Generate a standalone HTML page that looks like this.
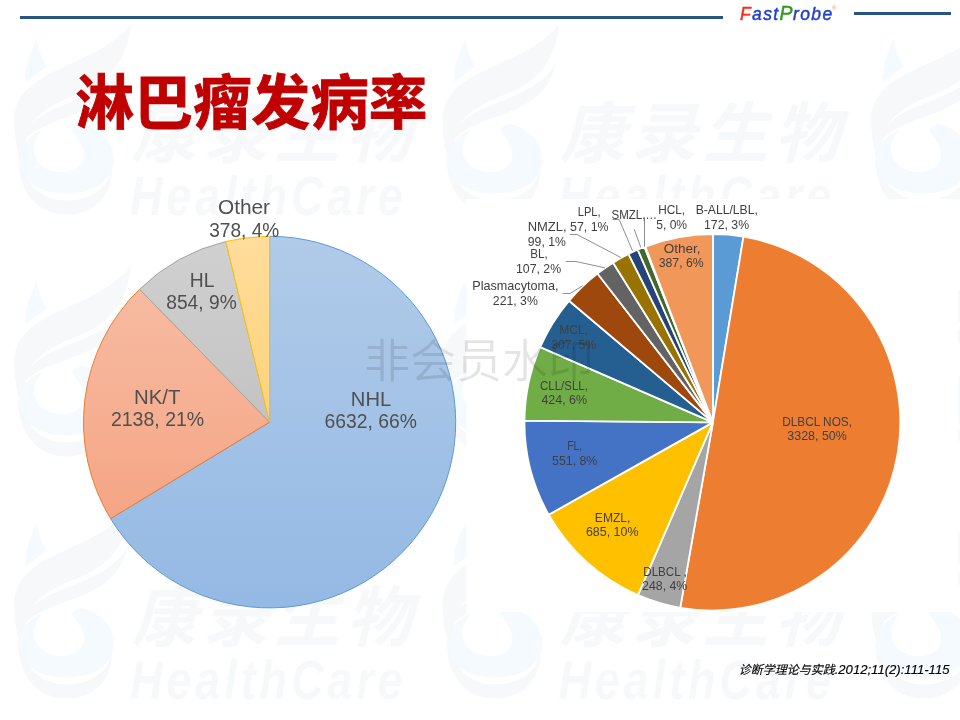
<!DOCTYPE html>
<html lang="zh-CN">
<head>
<meta charset="utf-8">
<title>淋巴瘤发病率</title>
<style>
html,body{margin:0;padding:0;background:#fff;}
body{width:960px;height:720px;position:relative;overflow:hidden;font-family:"Liberation Sans","Noto Sans CJK SC",sans-serif;}
.abs{position:absolute;}
.line1{left:20px;top:16px;width:703px;height:3px;background:#2A5482;}
.line2{left:854px;top:12px;width:97px;height:3px;background:#2A5482;}
.brand{left:740px;top:1.4px;font-size:17.5px;font-style:italic;letter-spacing:1.35px;line-height:24px;white-space:nowrap;color:#1F3FD0;-webkit-text-stroke:0.45px currentColor;}
.brand .f{color:#FF2A1A;} .brand .p{color:#2E9A1E;font-size:19.5px;letter-spacing:0.6px;}
.brand sup{font-size:6px;color:#F0A030;letter-spacing:0;font-style:normal;position:relative;top:-10px;left:-1.5px;vertical-align:baseline;-webkit-text-stroke:0;}
h1{margin:0;left:75.6px;top:56px;font-size:58.67px;line-height:86px;font-weight:bold;color:#C00000;white-space:nowrap;font-family:"Noto Sans CJK SC","Liberation Sans",sans-serif;-webkit-text-stroke:0.9px #C00000;}
.wm{left:364px;top:331.5px;font-size:46px;line-height:50px;color:rgba(0,0,0,0.105);white-space:nowrap;font-family:"Noto Sans CJK SC",sans-serif;font-weight:350;}
.cite{-webkit-text-stroke:0.15px #000;left:738.7px;top:660.7px;font-size:12px;line-height:18px;font-style:italic;color:#000;white-space:nowrap;font-family:"Liberation Sans","Noto Sans CJK SC",sans-serif;}
.cite span{font-size:13.1px;}
svg.chart{position:absolute;left:0;top:0;}
svg text.ll,svg text.rl{font-family:"Liberation Sans",sans-serif;text-anchor:start;fill:#505050;}
svg text.ll{font-size:19.6px;}
svg text.rl{font-size:12.3px;fill:#404040;}
</style>
</head>
<body>
<svg class="chart" width="960" height="720" viewBox="0 0 960 720">
<defs>
<linearGradient id="l0" gradientUnits="userSpaceOnUse" x1="0" y1="235" x2="0" y2="608"><stop offset="0" stop-color="#B1CBE9"/><stop offset="1" stop-color="#94B9E4"/></linearGradient>
<linearGradient id="l1" gradientUnits="userSpaceOnUse" x1="0" y1="290" x2="0" y2="520"><stop offset="0" stop-color="#F7BBA1"/><stop offset="1" stop-color="#F5A585"/></linearGradient>
<linearGradient id="l2" gradientUnits="userSpaceOnUse" x1="0" y1="245" x2="0" y2="422"><stop offset="0" stop-color="#D0D0D0"/><stop offset="1" stop-color="#C3C3C3"/></linearGradient>
<linearGradient id="l3" gradientUnits="userSpaceOnUse" x1="0" y1="235" x2="0" y2="422"><stop offset="0" stop-color="#FFDD9C"/><stop offset="1" stop-color="#FFD27A"/></linearGradient>
<pattern id="wm" patternUnits="userSpaceOnUse" x="0" y="0" width="428.5" height="242">
<g fill="#F6F8FA" transform="translate(0,-3.5)">
<path d="M131,27 C112,52 80,62 52,76 C28,88 14,102 14,124 C14,150 22,176 34,196 C24,170 22,146 30,130 C40,112 62,104 86,94 C112,82 128,60 131,27Z"/>
<path d="M128,66 C112,92 84,100 60,110 C40,118 26,128 22,146 C34,132 52,126 74,118 C102,108 122,94 128,66Z"/>
<path d="M18,160 C18,196 38,218 66,218 C94,218 112,200 112,172 C108,192 90,204 66,204 C42,204 24,188 18,160Z"/>
</g>
<g fill="#F4FAFD" transform="translate(-0.5,-3.5)">
<path d="M37,43 C30,58 25,70 26,86 C34,80 42,74 47,70 C42,62 39,52 37,43Z"/>
<path transform="translate(66,161) scale(1.03,0.97) translate(-66,-161)" d="M84,127 C100,132 113,146 113,162 C113,186 92,198 66,198 C40,198 21,184 21,164 C21,150 30,138 44,132 C36,142 34,150 36,158 C40,172 52,176 64,176 C76,176 84,168 84,158 C84,148 76,140 72,132 C76,128 80,126 84,127Z"/>
</g>
<text x="131" y="157" style="font-family:'Noto Sans CJK SC','Liberation Sans',sans-serif;font-weight:700;font-style:italic;font-size:66px;letter-spacing:5.5px;fill:#F6F8FA;">康录生物</text>
<text transform="translate(130,215) scale(0.82,1)" style="font-family:'Liberation Sans',sans-serif;font-weight:700;font-style:italic;font-size:55px;letter-spacing:4.7px;fill:#F6F8FA;">HealthCare</text>
</pattern>
</defs>
<rect x="0" y="0" width="960" height="720" fill="url(#wm)"/>
<rect x="466.5" y="199" width="491.6" height="413" fill="#ffffff"/>
<path d="M269.60,422.10L269.60,236.30A186.10,185.80 0 1 1 110.58,518.61Z" fill="url(#l0)" stroke="#5B9BD5" stroke-width="1" stroke-linejoin="round"/>
<path d="M269.60,422.10L110.58,518.61A186.10,185.80 0 0 1 139.52,289.22Z" fill="url(#l1)" stroke="#ED7D31" stroke-width="1" stroke-linejoin="round"/>
<path d="M269.60,422.10L139.52,289.22A186.10,185.80 0 0 1 225.82,241.51Z" fill="url(#l2)" stroke="#A5A5A5" stroke-width="1" stroke-linejoin="round"/>
<path d="M269.60,422.10L225.82,241.51A186.10,185.80 0 0 1 269.60,236.30Z" fill="url(#l3)" stroke="#FFC000" stroke-width="1" stroke-linejoin="round"/>
<path d="M712.90,422.40L712.90,234.10A188.45,188.30 0 0 1 743.47,236.59Z" fill="#5B9BD5" stroke="#ffffff" stroke-width="1.8" stroke-linejoin="round"/>
<path d="M712.90,422.40L743.47,236.59A188.45,188.30 0 1 1 680.22,607.85Z" fill="#ED7D31" stroke="#ffffff" stroke-width="1.8" stroke-linejoin="round"/>
<path d="M712.90,422.40L680.22,607.85A188.45,188.30 0 0 1 637.91,595.15Z" fill="#A5A5A5" stroke="#ffffff" stroke-width="1.8" stroke-linejoin="round"/>
<path d="M712.90,422.40L637.91,595.15A188.45,188.30 0 0 1 548.67,514.74Z" fill="#FFC000" stroke="#ffffff" stroke-width="1.8" stroke-linejoin="round"/>
<path d="M712.90,422.40L548.67,514.74A188.45,188.30 0 0 1 524.46,420.62Z" fill="#4472C4" stroke="#ffffff" stroke-width="1.8" stroke-linejoin="round"/>
<path d="M712.90,422.40L524.46,420.62A188.45,188.30 0 0 1 540.16,347.14Z" fill="#70AD47" stroke="#ffffff" stroke-width="1.8" stroke-linejoin="round"/>
<path d="M712.90,422.40L540.16,347.14A188.45,188.30 0 0 1 569.01,300.80Z" fill="#255E91" stroke="#ffffff" stroke-width="1.8" stroke-linejoin="round"/>
<path d="M712.90,422.40L569.01,300.80A188.45,188.30 0 0 1 597.45,273.57Z" fill="#9E480E" stroke="#ffffff" stroke-width="1.8" stroke-linejoin="round"/>
<path d="M712.90,422.40L597.45,273.57A188.45,188.30 0 0 1 613.11,262.66Z" fill="#636363" stroke="#ffffff" stroke-width="1.8" stroke-linejoin="round"/>
<path d="M712.90,422.40L613.11,262.66A188.45,188.30 0 0 1 628.52,254.03Z" fill="#997300" stroke="#ffffff" stroke-width="1.8" stroke-linejoin="round"/>
<path d="M712.90,422.40L628.52,254.03A188.45,188.30 0 0 1 637.74,249.72Z" fill="#264478" stroke="#ffffff" stroke-width="1.8" stroke-linejoin="round"/>
<path d="M712.90,422.40L637.74,249.72A188.45,188.30 0 0 1 644.51,246.94Z" fill="#43682B" stroke="#ffffff" stroke-width="1.8" stroke-linejoin="round"/>
<path d="M712.90,422.40L644.51,246.94A188.45,188.30 0 0 1 645.34,246.62Z" fill="#7CAFDD" stroke="#ffffff" stroke-width="1.8" stroke-linejoin="round"/>
<path d="M712.90,422.40L645.34,246.62A188.45,188.30 0 0 1 712.90,234.10Z" fill="#F1975A" stroke="#ffffff" stroke-width="1.8" stroke-linejoin="round"/>
<g fill="none" stroke="#8F8F8F" stroke-width="1">
<path d="M562.5,293.5H570L582.5,285.8"/>
<path d="M565.8,261.5H575.8L605,267.8"/>
<path d="M570,234.5H577L620.8,257.5"/>
<path d="M612.5,219.5H619.2L632.5,250.8"/>
<path d="M634.2,229.2L640.8,247.5"/>
<path d="M644.5,217.5V246.7"/>
</g>
<text class="ll" transform="translate(350.86,405.6) scale(1.027,1)">NHL</text>
<text class="ll" transform="translate(324.51,428.0) scale(0.9859,1)">6632, 66%</text>
<text class="ll" transform="translate(133.94,404.0) scale(1.0409,1)">NK/T</text>
<text class="ll" transform="translate(110.9,426.0) scale(0.9967,1)">2138, 21%</text>
<text class="ll" transform="translate(189.72,287.0) scale(0.9846,1)">HL</text>
<text class="ll" transform="translate(166.26,309.0) scale(0.9801,1)">854, 9%</text>
<text class="ll" transform="translate(217.94,214.1) scale(1.0639,1)">Other</text>
<text class="ll" transform="translate(209.17,237.0) scale(0.9745,1)">378, 4%</text>
<text class="rl" transform="translate(658.24,214.2) scale(0.9615,1)">HCL,</text>
<text class="rl" transform="translate(656.21,228.8) scale(0.9836,1)">5, 0%</text>
<text class="rl" transform="translate(695.71,214.2) scale(0.9877,1)">B-ALL/LBL,</text>
<text class="rl" transform="translate(704.0,228.8) scale(0.9989,1)">172, 3%</text>
<text class="rl" transform="translate(663.65,252.8) scale(1.1024,1)">Other,</text>
<text class="rl" transform="translate(658.7,266.7) scale(0.9966,1)">387, 6%</text>
<text class="rl" transform="translate(577.8,215.8) scale(0.9032,1)">LPL,</text>
<text class="rl" transform="translate(570.0,230.6) scale(1.0067,1)">57, 1%</text>
<text class="rl" transform="translate(527.65,230.6) scale(1.0532,1)">NMZL,</text>
<text class="rl" transform="translate(527.8,246.0) scale(0.9933,1)">99, 1%</text>
<text class="rl" transform="translate(530.35,258.3) scale(0.9477,1)">BL,</text>
<text class="rl" transform="translate(516.0,273.0) scale(1.0011,1)">107, 2%</text>
<text class="rl" transform="translate(472.27,290.0) scale(1.0268,1)">Plasmacytoma,</text>
<text class="rl" transform="translate(492.8,304.7) scale(0.9989,1)">221, 3%</text>
<text class="rl" transform="translate(611.53,219.0) scale(0.9362,1)">SMZL,…</text>
<text class="rl" transform="translate(559.32,334.0) scale(0.9798,1)">MCL,</text>
<text class="rl" transform="translate(551.2,349.0) scale(0.9966,1)">307, 5%</text>
<text class="rl" transform="translate(540.1,390.0) scale(0.9333,1)">CLL/SLL,</text>
<text class="rl" transform="translate(541.45,404.4) scale(1.0112,1)">424, 6%</text>
<text class="rl" transform="translate(567.16,450.0) scale(0.8444,1)">FL,</text>
<text class="rl" transform="translate(552.0,464.7) scale(1.0056,1)">551, 8%</text>
<text class="rl" transform="translate(594.82,521.5) scale(0.9824,1)">EMZL,</text>
<text class="rl" transform="translate(585.94,536.0) scale(1.0108,1)">685, 10%</text>
<text class="rl" transform="translate(643.25,575.8) scale(0.9455,1)">DLBCL ,</text>
<text class="rl" transform="translate(642.0,590.0) scale(1.0056,1)">248, 4%</text>
<text class="rl" transform="translate(782.24,425.8) scale(0.9603,1)">DLBCL NOS,</text>
<text class="rl" transform="translate(787.29,440.2) scale(1.013,1)">3328, 50%</text>
</svg>
<div class="abs line1"></div>
<div class="abs line2"></div>
<div class="abs brand"><span class="f">F</span>ast<span class="p">P</span>robe<sup>®</sup></div>
<h1 class="abs">淋巴瘤发病率</h1>
<div class="abs wm">非会员水印</div>
<div class="abs cite">诊断学理论与实践<span>.2012;11(2):111-115</span></div>
</body>
</html>
